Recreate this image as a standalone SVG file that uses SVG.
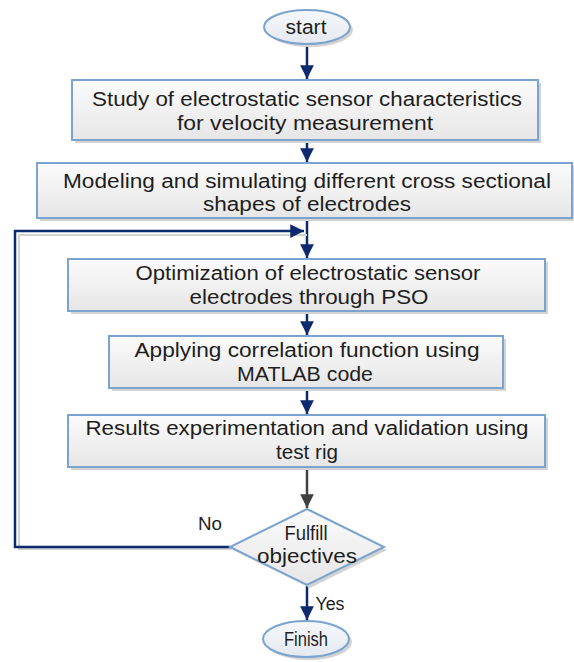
<svg xmlns="http://www.w3.org/2000/svg" width="574" height="662" viewBox="0 0 574 662">
<defs>
<linearGradient id="gb" x1="0" y1="0" x2="0" y2="1">
<stop offset="0" stop-color="#fbfbfb"/><stop offset="1" stop-color="#e6e6e6"/>
</linearGradient>
<linearGradient id="ge" x1="0" y1="0" x2="0" y2="1">
<stop offset="0" stop-color="#f6f8fb"/><stop offset="1" stop-color="#e4e9f0"/>
</linearGradient>
<marker id="an" viewBox="0 0 10 10" refX="10" refY="5" markerWidth="5.5" markerHeight="5.5" orient="auto" markerUnits="strokeWidth">
<path d="M0,0 L10,5 L0,10 z" fill="#0e2a6e"/>
</marker>
<marker id="ag" viewBox="0 0 10 10" refX="10" refY="5" markerWidth="5.5" markerHeight="5.5" orient="auto" markerUnits="strokeWidth">
<path d="M0,0 L10,5 L0,10 z" fill="#404040"/>
</marker>
</defs>
<style>
.box{fill:url(#gb);stroke:#7ba3cf;stroke-width:2}
.ell{fill:url(#ge);stroke:#7ba3cf;stroke-width:2}
.sh{fill:#d3d3d3}
.t{font-family:"Liberation Sans",Arial,sans-serif;font-size:20px;fill:#1e1e1e;text-anchor:middle}
.s{font-size:18px}
.c{fill:none;stroke:#0e2a6e;stroke-width:2.5}
</style>
<rect width="574" height="662" fill="#ffffff"/>
<g id="connectors">
<line class="c" x1="307" y1="44" x2="307" y2="79" marker-end="url(#an)"/>
<line class="c" x1="307" y1="141" x2="307" y2="162" marker-end="url(#an)"/>
<line class="c" x1="307" y1="219" x2="307" y2="258" marker-end="url(#an)"/>
<line class="c" x1="307" y1="312" x2="307" y2="335" marker-end="url(#an)"/>
<line class="c" x1="307" y1="389" x2="307" y2="414" marker-end="url(#an)"/>
<line x1="307" y1="468" x2="307" y2="508" stroke="#404040" stroke-width="2.5" marker-end="url(#ag)"/>
<polyline points="230,547 17,547 17,233 305,233" fill="none" stroke="#d3d3d3" stroke-width="2" transform="translate(2,2)"/>
<polyline class="c" points="230,547 15,547 15,231 304,231" stroke-width="2" marker-end="url(#an)"/>
<line class="c" x1="307" y1="586" x2="307" y2="620" marker-end="url(#an)"/>
<text class="t s" x="210" y="530" textLength="24" lengthAdjust="spacingAndGlyphs">No</text>
<text class="t s" x="330" y="610" textLength="29" lengthAdjust="spacingAndGlyphs">Yes</text>
</g>
<g id="start">
<ellipse class="sh" cx="310" cy="30" rx="43" ry="17"/>
<ellipse class="ell" cx="307" cy="27" rx="43" ry="17"/>
<text class="t" x="306" y="34" textLength="41" lengthAdjust="spacingAndGlyphs">start</text>
</g>
<g id="box1">
<rect class="sh" x="75" y="83" width="466" height="60"/>
<rect class="box" x="72" y="80" width="466" height="60"/>
<text class="t" x="307" y="106" textLength="430" lengthAdjust="spacingAndGlyphs">Study of electrostatic sensor characteristics</text>
<text class="t" x="305" y="130" textLength="256" lengthAdjust="spacingAndGlyphs">for velocity measurement</text>
</g>
<g id="box2">
<rect class="sh" x="40" y="166" width="534" height="55"/>
<rect class="box" x="37" y="163" width="535" height="55"/>
<text class="t" x="307" y="188" textLength="488" lengthAdjust="spacingAndGlyphs">Modeling and simulating different cross sectional</text>
<text class="t" x="307" y="211" textLength="208" lengthAdjust="spacingAndGlyphs">shapes of electrodes</text>
</g>
<g id="box3">
<rect class="sh" x="71" y="262" width="477" height="52"/>
<rect class="box" x="68" y="259" width="477" height="52"/>
<text class="t" x="308" y="280" textLength="345" lengthAdjust="spacingAndGlyphs">Optimization of electrostatic sensor</text>
<text class="t" x="309" y="304" textLength="239" lengthAdjust="spacingAndGlyphs">electrodes through PSO</text>
</g>
<g id="box4">
<rect class="sh" x="112" y="339" width="394" height="52"/>
<rect class="box" x="109" y="336" width="394" height="52"/>
<text class="t" x="307" y="357" textLength="345" lengthAdjust="spacingAndGlyphs">Applying correlation function using</text>
<text class="t" x="305" y="381" textLength="136" lengthAdjust="spacingAndGlyphs">MATLAB code</text>
</g>
<g id="box5">
<rect class="sh" x="71" y="418" width="477" height="52"/>
<rect class="box" x="68" y="415" width="477" height="52"/>
<text class="t" x="307" y="435" textLength="443" lengthAdjust="spacingAndGlyphs">Results experimentation and validation using</text>
<text class="t" x="307" y="459" textLength="62" lengthAdjust="spacingAndGlyphs">test rig</text>
</g>
<g id="decision">
<polygon class="sh" points="310,512 387,550 310,588 233,550"/>
<polygon class="box" points="307,509 384,547 307,585 230,547"/>
<text class="t" x="306" y="540" textLength="43" lengthAdjust="spacingAndGlyphs">Fulfill</text>
<text class="t" x="307" y="563" textLength="100" lengthAdjust="spacingAndGlyphs">objectives</text>
</g>
<g id="finish">
<ellipse class="sh" cx="309" cy="642" rx="43" ry="18"/>
<ellipse class="ell" cx="306" cy="639" rx="43" ry="18"/>
<text class="t" x="306" y="646" textLength="44" lengthAdjust="spacingAndGlyphs">Finish</text>
</g>
</svg>
